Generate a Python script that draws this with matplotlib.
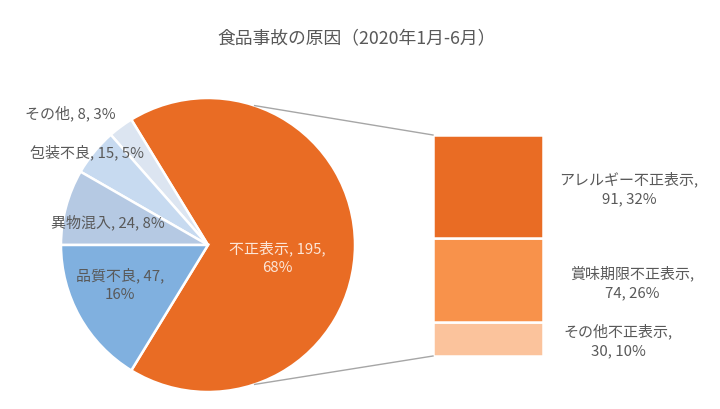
import matplotlib
matplotlib.use("Agg")
import matplotlib.pyplot as plt
import numpy as np

plt.rcParams['font.family'] = ['Noto Sans CJK JP', 'DejaVu Sans']

title = '食品事故の原因（2020年1月-6月）'
pie_labels = ['不正表示', 'その他', '包装不良', '異物混入', '品質不良']
pie_values = [195, 8, 15, 24, 47]
pie_pcts = [68, 3, 5, 8, 16]
bar_labels = ['アレルギー不正表示', '賞味期限不正表示', 'その他不正表示']
bar_values = [91, 74, 30]
bar_pcts = [32, 26, 10]

pie_colors = ['#E96C24', '#DCE5F1', '#C7DAF0', '#B5C9E3', '#80B0DF']
bar_colors = ['#E96C24', '#F8924B', '#FBC39C']
txt = '#595959'

W, H = 720, 410
fig = plt.figure(figsize=(7.2, 4.1), dpi=100)
ax = fig.add_axes([0, 0, 1, 1])

cx, cy, r = 208, H - 246, 147
total = sum(pie_values)
start = -0.5 * pie_values[0] / total * 360
ax.pie(pie_values, colors=pie_colors, center=(cx, cy), radius=r,
       startangle=start, counterclock=True,
       wedgeprops=dict(edgecolor='white', linewidth=1.8))

# bar of split slice
bx0, bx1 = 433, 543
btop, bbot = H - 136, H - 357
scale = (btop - bbot) / sum(bar_values)
bottom = bbot
for lab, v, c in reversed(list(zip(bar_labels, bar_values, bar_colors))):
    ax.bar((bx0 + bx1) / 2, v * scale, bottom=bottom, width=bx1 - bx0,
           color=c, edgecolor='white', linewidth=1.8)
    bottom += v * scale

# connector lines
ang = np.deg2rad(71.5)
ax.plot([cx + r * np.cos(ang), bx0], [cy + r * np.sin(ang), btop],
        color='#A6A6A6', lw=1.0)
ax.plot([cx + r * np.cos(ang), bx0], [cy - r * np.sin(ang), bbot],
        color='#A6A6A6', lw=1.0)

fs = 10.8
ls = 1.4
# pie labels (image coords x, y)
pie_pos = {
    '不正表示': (277, 258, 'two', '#FCE6D8'),
    'その他': (70, 113, 'one', txt),
    '包装不良': (87, 152, 'one', txt),
    '異物混入': (108, 222, 'one', txt),
    '品質不良': (120, 285, 'two', txt),
}
for lab, v, p in zip(pie_labels, pie_values, pie_pcts):
    x, y, mode, col = pie_pos[lab]
    if mode == 'one':
        s = f'{lab}, {v}, {p}%'
    else:
        s = f'{lab}, {v},\n{p}%'
    ax.text(x, H - y, s, ha='center', va='center', fontsize=fs, color=col,
            linespacing=ls)

bar_pos = [(629, 189), (632, 283), (618, 341)]
for lab, v, p, (x, y) in zip(bar_labels, bar_values, bar_pcts, bar_pos):
    ax.text(x, H - y, f'{lab},\n{v}, {p}%', ha='center', va='center',
            fontsize=fs, color=txt, linespacing=ls)

ax.text(357, H - 38, title, ha='center', va='center', fontsize=12.8, color=txt)

ax.set_xlim(0, W)
ax.set_ylim(0, H)
ax.set_aspect('auto')
ax.axis('off')
fig.savefig('out.png', dpi=100, facecolor='white')
